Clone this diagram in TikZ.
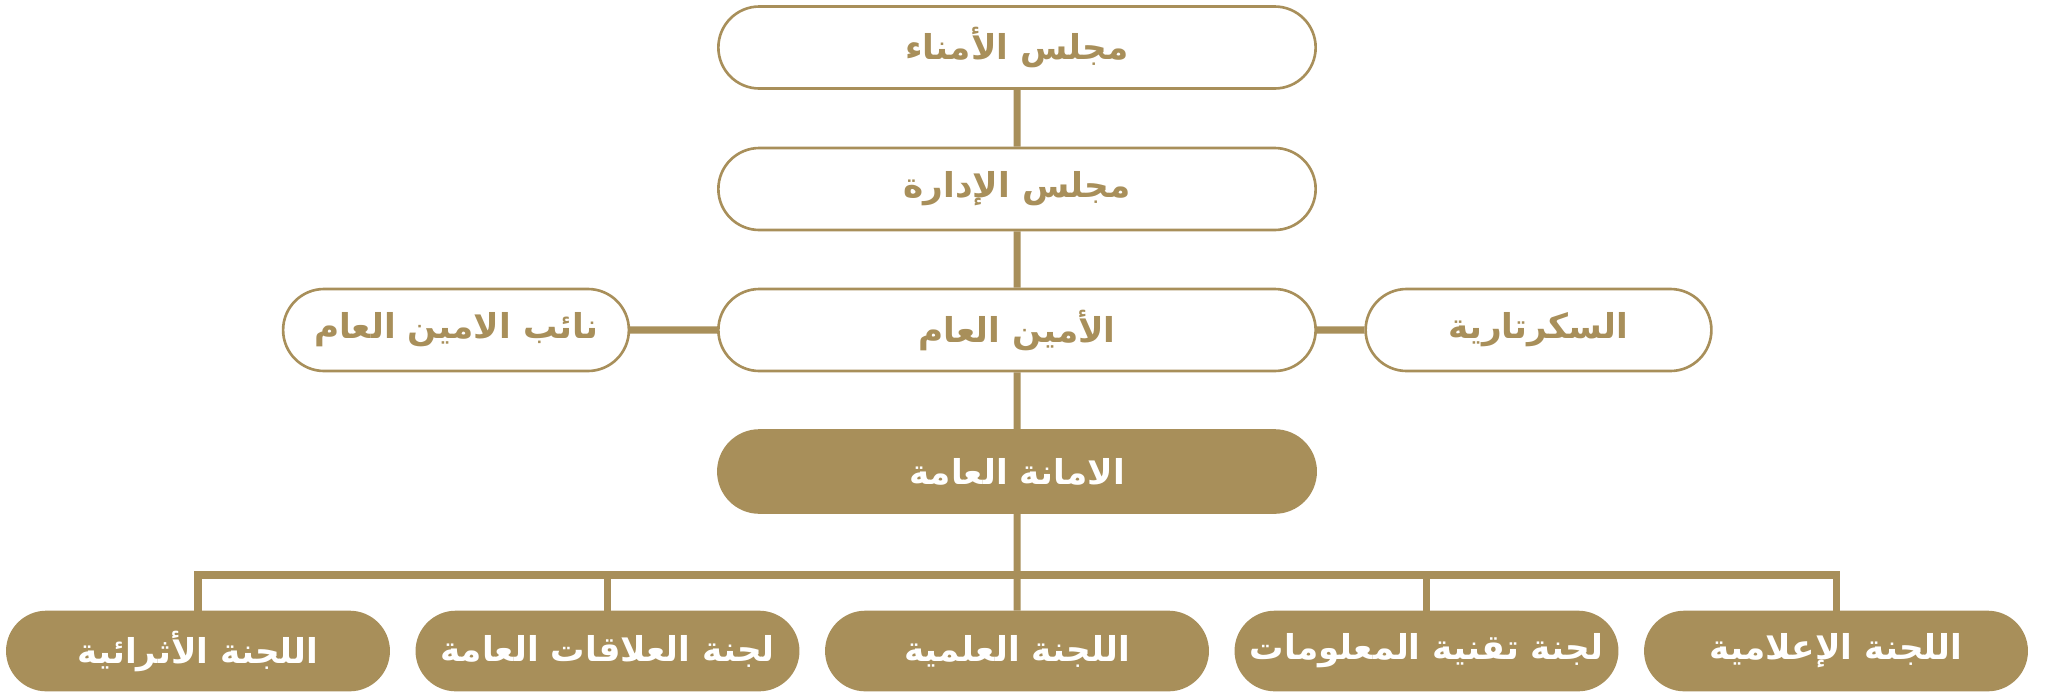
\documentclass[tikz,border=0pt]{standalone}
\usepackage{fontspec}
\usetikzlibrary{shapes.misc}
\newfontfamily\arabicfont[Script=Arabic]{DejaVu Sans}
\TeXXeTstate=1
\definecolor{gold}{RGB}{168,143,90}
\newcommand{\ar}[1]{\beginR #1\endR}
\begin{document}
\begin{tikzpicture}[
		box/.style={rounded rectangle, draw=gold, line width=1.5pt, minimum width=12.18cm, minimum height=1.64cm, text=gold, font=\arabicfont\bfseries\fontsize{19.5}{24}\selectfont},
		side/.style={box, minimum width=7.15cm},
		filledbox/.style={box, fill=gold, text=white},
		unit/.style={filledbox, minimum width=7.86cm, minimum height=1.56cm},
		conn/.style={draw=gold, line width=4pt, line join=miter}]
	\def\cx{20.34} \def\dx{8.19}
	\useasboundingbox (0,0) rectangle (40.94,-13.82);
	\node[box] (trustees) at (\cx,-.95) {\ar{مجلس الأمناء}};
	\node[box] (board) at (\cx,-3.78) {\ar{مجلس الإدارة}};
	\node[box] (sg) at (\cx,-6.6) {\ar{الأمين العام}};
	\node[side] (dep) at (9.12,-6.6) {\ar{نائب الامين العام}};
	\node[side] (secr) at (30.77,-6.6) {\ar{السكرتارية}};
	\node[filledbox] (gs) at (\cx,-9.43) {\ar{الامانة العامة}};
	\foreach \i/\t in {1/اللجنة الأثرائية,2/لجنة العلاقات العامة,3/اللجنة العلمية,4/لجنة تقنية المعلومات,5/اللجنة الإعلامية}
		\node[unit] (c\i) at ({\cx+(\i-3)*\dx},-13.02) {\ar{\t}};
	\coordinate (bus) at (\cx,-11.5);
	\draw[conn] (trustees) -- (board) -- (sg) -- (gs) -- (c3);
	\draw[conn] (dep) -- (sg) -- (secr);
	\draw[conn] (c1.north) |- (bus) -| (c5.north);
	\foreach \i in {2,4} \draw[conn] (c\i.north) -- (c\i.north |- bus);
\end{tikzpicture}
\end{document}
